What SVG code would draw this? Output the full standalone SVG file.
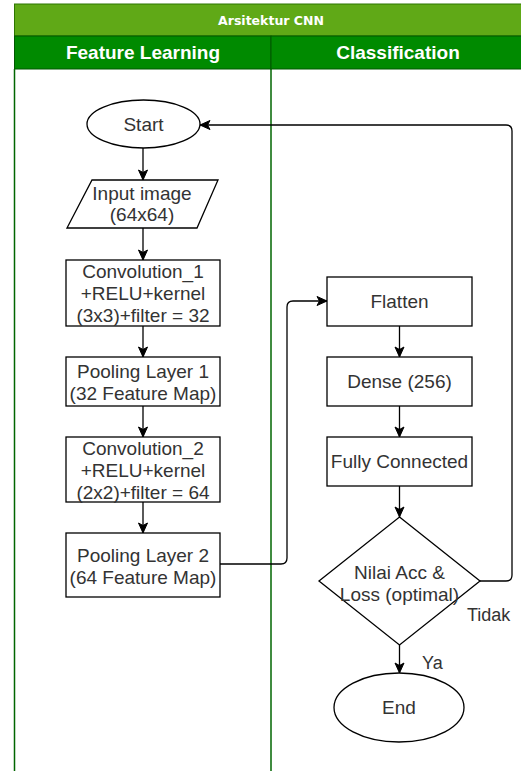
<svg xmlns="http://www.w3.org/2000/svg" width="521" height="771" viewBox="0 0 521 771">
<style>
.box{fill:#fff;stroke:#000;stroke-width:1.3}
.t{font-family:"Liberation Sans",Arial,sans-serif;font-size:19px;fill:#333;text-anchor:middle}
.hd{font-family:"Liberation Sans",Arial,sans-serif;font-size:19px;font-weight:bold;fill:#fff;text-anchor:middle}
.ttl{font-family:"DejaVu Sans",Verdana,sans-serif;font-size:12.5px;font-weight:bold;fill:#fff;text-anchor:middle}
.ln{fill:none;stroke:#000;stroke-width:1.3}
.lbl{font-family:"Liberation Sans",Arial,sans-serif;font-size:18px;fill:#333}
</style>
<defs>
<marker id="ah" markerUnits="userSpaceOnUse" markerWidth="12" markerHeight="12" viewBox="0 0 12 12" refX="11" refY="6" orient="auto">
<path d="M1,1.5 L11,6 L1,10.5 L3.5,6 z" fill="#000" stroke="#000" stroke-width="1"/>
</marker>
</defs>
<rect width="521" height="771" fill="#fff"/>
<g id="pool">
<rect x="14.5" y="4" width="520" height="32" fill="#60A917" stroke="#2D7600" stroke-width="1"/>
<text class="ttl" x="271" y="24.5">Arsitektur CNN</text>
<rect x="14.5" y="36" width="256.5" height="33" fill="#008A00" stroke="#005700" stroke-width="1"/>
<rect x="271" y="36" width="264" height="33" fill="#008A00" stroke="#005700" stroke-width="1"/>
<text class="hd" x="143" y="59">Feature Learning</text>
<text class="hd" x="398" y="59">Classification</text>
<line x1="14.5" y1="69" x2="14.5" y2="771" stroke="#006600" stroke-width="1.5"/>
<line x1="271" y1="69" x2="271" y2="771" stroke="#006600" stroke-width="1.5"/>
</g>
<g id="connectors">
<line class="ln" x1="143" y1="148" x2="143" y2="180" marker-end="url(#ah)"/>
<line class="ln" x1="143" y1="228" x2="143" y2="260" marker-end="url(#ah)"/>
<line class="ln" x1="143" y1="326" x2="143" y2="357" marker-end="url(#ah)"/>
<line class="ln" x1="143" y1="406" x2="143" y2="437" marker-end="url(#ah)"/>
<line class="ln" x1="143" y1="502" x2="143" y2="533" marker-end="url(#ah)"/>
<path class="ln" d="M220,564 H281 Q287,564 287,558 V307 Q287,301 293,301 H327" marker-end="url(#ah)"/>
<line class="ln" x1="399.5" y1="326" x2="399.5" y2="357" marker-end="url(#ah)"/>
<line class="ln" x1="399.5" y1="406" x2="399.5" y2="437" marker-end="url(#ah)"/>
<line class="ln" x1="399.5" y1="486" x2="399.5" y2="517" marker-end="url(#ah)"/>
<line class="ln" x1="399.5" y1="645" x2="399.5" y2="673" marker-end="url(#ah)"/>
<path class="ln" d="M480,581 H506 Q512,581 512,575 V131 Q512,125 506,125 H200" marker-end="url(#ah)"/>
<text class="lbl" x="467" y="621">Tidak</text>
<text class="lbl" x="422" y="669">Ya</text>
</g>
<g id="start">
<ellipse class="box" cx="143.5" cy="124" rx="56.5" ry="24"/>
<text class="t" x="143.5" y="131">Start</text>
</g>
<g id="input">
<polygon class="box" points="92,180 218,180 197,228 67,228"/>
<text class="t" x="142" y="200">Input image</text>
<text class="t" x="142" y="221">(64x64)</text>
</g>
<g id="conv1">
<rect class="box" x="66" y="260" width="154" height="66"/>
<text class="t" x="143" y="278">Convolution_1</text>
<text class="t" x="143" y="300">+RELU+kernel</text>
<text class="t" x="143" y="322">(3x3)+filter = 32</text>
</g>
<g id="pool1">
<rect class="box" x="66" y="357" width="154" height="49"/>
<text class="t" x="143" y="378">Pooling Layer 1</text>
<text class="t" x="143" y="400">(32 Feature Map)</text>
</g>
<g id="conv2">
<rect class="box" x="66" y="437" width="154" height="65"/>
<text class="t" x="143" y="455">Convolution_2</text>
<text class="t" x="143" y="477">+RELU+kernel</text>
<text class="t" x="143" y="499">(2x2)+filter = 64</text>
</g>
<g id="pool2">
<rect class="box" x="66" y="533" width="154" height="64"/>
<text class="t" x="143" y="562">Pooling Layer 2</text>
<text class="t" x="143" y="584">(64 Feature Map)</text>
</g>
<g id="flatten">
<rect class="box" x="327" y="277" width="145" height="49"/>
<text class="t" x="399.5" y="308">Flatten</text>
</g>
<g id="dense">
<rect class="box" x="327" y="357" width="145" height="49"/>
<text class="t" x="399.5" y="388">Dense (256)</text>
</g>
<g id="fc">
<rect class="box" x="327" y="437" width="145" height="49"/>
<text class="t" x="399.5" y="468">Fully Connected</text>
</g>
<g id="decision">
<polygon class="box" points="399.5,517 480,581 399.5,645 319,581"/>
<text class="t" x="399.5" y="579">Nilai Acc &amp;</text>
<text class="t" x="399.5" y="601">Loss (optimal)</text>
</g>
<g id="end">
<ellipse class="box" cx="399" cy="707.5" rx="65" ry="34.5"/>
<text class="t" x="399" y="714">End</text>
</g>
</svg>
